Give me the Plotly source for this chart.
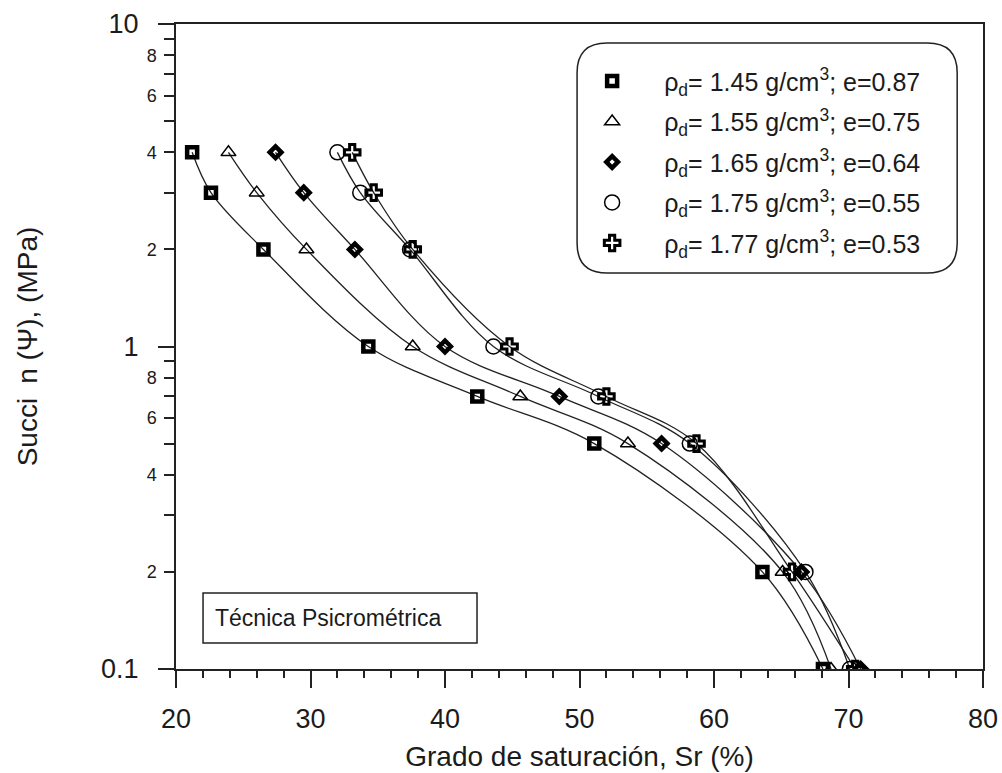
import plotly.graph_objects as go

# ---- data ----
suction_mpa = [4, 3, 2, 1, 0.7, 0.5, 0.2, 0.1]
sr_145 = [21.2, 22.6, 26.5, 34.3, 42.4, 51.1, 63.6, 68.1]
sr_155 = [23.9, 26.0, 29.7, 37.6, 45.6, 53.6, 65.1, 68.7]
sr_165 = [27.4, 29.5, 33.3, 40.0, 48.5, 56.1, 66.5, 70.9]
sr_175 = [32.0, 33.7, 37.4, 43.6, 51.4, 58.2, 66.8, 70.1]
sr_177 = [33.1, 34.7, 37.6, 44.8, 52.0, 58.7, 65.8, 70.5]

series_labels = [
    "ρ<sub>d</sub>= 1.45 g/cm<sup>3</sup>; e=0.87",
    "ρ<sub>d</sub>= 1.55 g/cm<sup>3</sup>; e=0.75",
    "ρ<sub>d</sub>= 1.65 g/cm<sup>3</sup>; e=0.64",
    "ρ<sub>d</sub>= 1.75 g/cm<sup>3</sup>; e=0.55",
    "ρ<sub>d</sub>= 1.77 g/cm<sup>3</sup>; e=0.53",
]

y_small_tickvals = [0.2, 0.3, 0.4, 0.5, 0.6, 0.7, 0.8, 0.9, 2, 3, 4, 5, 6, 7, 8, 9]
y_small_ticktext = ["2", "", "4", "", "6", "", "8", "", "2", "", "4", "", "6", "", "8", ""]
y_big_tickvals = [0.1, 1, 10]
y_big_ticktext = ["0.1", "1", "10"]

x_title = "Grado de saturación, Sr (%)"
y_title = "Succi\u2002n (Ψ), (MPa)"
box_text = "Técnica Psicrométrica"

FONT = "Liberation Sans, Arial, sans-serif"
INK = "#1b1b1b"

markers = [
    dict(symbol="square-open", size=10, color="black", line=dict(width=4.5, color="black")),
    dict(symbol="triangle-up-open", size=13, color="black", line=dict(width=1.5, color="black")),
    dict(symbol="diamond-open", size=9, color="black", line=dict(width=4.5, color="black")),
    dict(symbol="circle-open", size=15, color="black", line=dict(width=1.5, color="black")),
    dict(symbol="cross-open", size=13, color="black", line=dict(width=3, color="black")),
]

series = [sr_145, sr_155, sr_165, sr_175, sr_177]

fig = go.Figure()
for sr in series:
    fig.add_trace(go.Scatter(
        x=sr, y=suction_mpa, mode="lines", showlegend=False, hoverinfo="skip",
        line=dict(color="#222", width=1.3, shape="spline", smoothing=1.0),
    ))
for i, (sr, lab, mk) in enumerate(zip(series, series_labels, markers)):
    fig.add_trace(go.Scatter(
        x=sr, y=suction_mpa, name=lab, mode="markers",
        marker=mk, legendgroup=f"g{i}",
    ))

# dummy trace so the overlay axis for the long ticks is drawn
fig.add_trace(go.Scatter(x=[None], y=[None], yaxis="y2", showlegend=False, hoverinfo="skip"))

fig.update_layout(
    width=1002, height=773,
    margin=dict(l=176, r=19, t=24, b=104),
    paper_bgcolor="white", plot_bgcolor="white",
    font=dict(family=FONT, color=INK),
    showlegend=True,
    legend=dict(
        x=0.476, y=0.947, xanchor="left", yanchor="top",
        bgcolor="rgba(0,0,0,0)", borderwidth=0,
        font=dict(size=25, family=FONT, color=INK),
        itemwidth=94, tracegroupgap=5,
    ),
    xaxis=dict(
        range=[20, 80], dtick=10, tick0=20, automargin=False,
        ticks="outside", ticklen=17, tickwidth=1.5, tickcolor="#222",
        minor=dict(dtick=2, tick0=20, ticks="outside", ticklen=7, tickwidth=1.5, tickcolor="#222"),
        showline=True, linewidth=1.5, linecolor="#222", mirror=True,
        showgrid=False, zeroline=False,
        tickfont=dict(size=27, family=FONT, color=INK),
        ticklabelstandoff=8,
        title=dict(text=x_title, font=dict(size=28, family=FONT, color=INK), standoff=13),
    ),
    yaxis=dict(
        type="log", range=[-1, 1], automargin=False,
        tickmode="array", tickvals=y_small_tickvals, ticktext=y_small_ticktext,
        ticks="outside", ticklen=10, tickwidth=1.5, tickcolor="#222",
        showline=True, linewidth=1.5, linecolor="#222", mirror=True,
        showgrid=False, zeroline=False,
        tickfont=dict(size=18, family=FONT, color=INK),
        ticklabelstandoff=4,
    ),
    yaxis2=dict(
        type="log", range=[-1, 1], overlaying="y", side="left", automargin=False,
        tickmode="array", tickvals=y_big_tickvals, ticktext=y_big_ticktext,
        ticks="outside", ticklen=17, tickwidth=1.5, tickcolor="#222",
        showline=False, showgrid=False, zeroline=False,
        tickfont=dict(size=27, family=FONT, color=INK),
        ticklabelstandoff=14,
        title=dict(text=y_title, font=dict(size=28, family=FONT, color=INK), standoff=55),
    ),
)

# rounded legend frame
x0, x1, y0, y1 = 0.497, 0.968, 0.614, 0.9705
rx, ry = 0.037, 0.046
path = (f"M {x0+rx},{y1} L {x1-rx},{y1} Q {x1},{y1} {x1},{y1-ry} "
        f"L {x1},{y0+ry} Q {x1},{y0} {x1-rx},{y0} L {x0+rx},{y0} "
        f"Q {x0},{y0} {x0},{y0+ry} L {x0},{y1-ry} Q {x0},{y1} {x0+rx},{y1} Z")
fig.add_shape(type="path", path=path, xref="paper", yref="paper",
              line=dict(color="#222", width=1.5), fillcolor="white", layer="below")

# text box
fig.add_shape(type="rect", xref="paper", yref="paper",
              x0=0.0335, x1=0.373, y0=0.0403, y1=0.1178,
              line=dict(color="#222", width=1.5), fillcolor="white", layer="below")
fig.add_annotation(text=box_text, xref="paper", yref="paper", x=0.046, y=0.079,
                   xanchor="left", yanchor="middle", showarrow=False,
                   font=dict(size=23, family=FONT, color=INK))

fig.write_html("out.html")
